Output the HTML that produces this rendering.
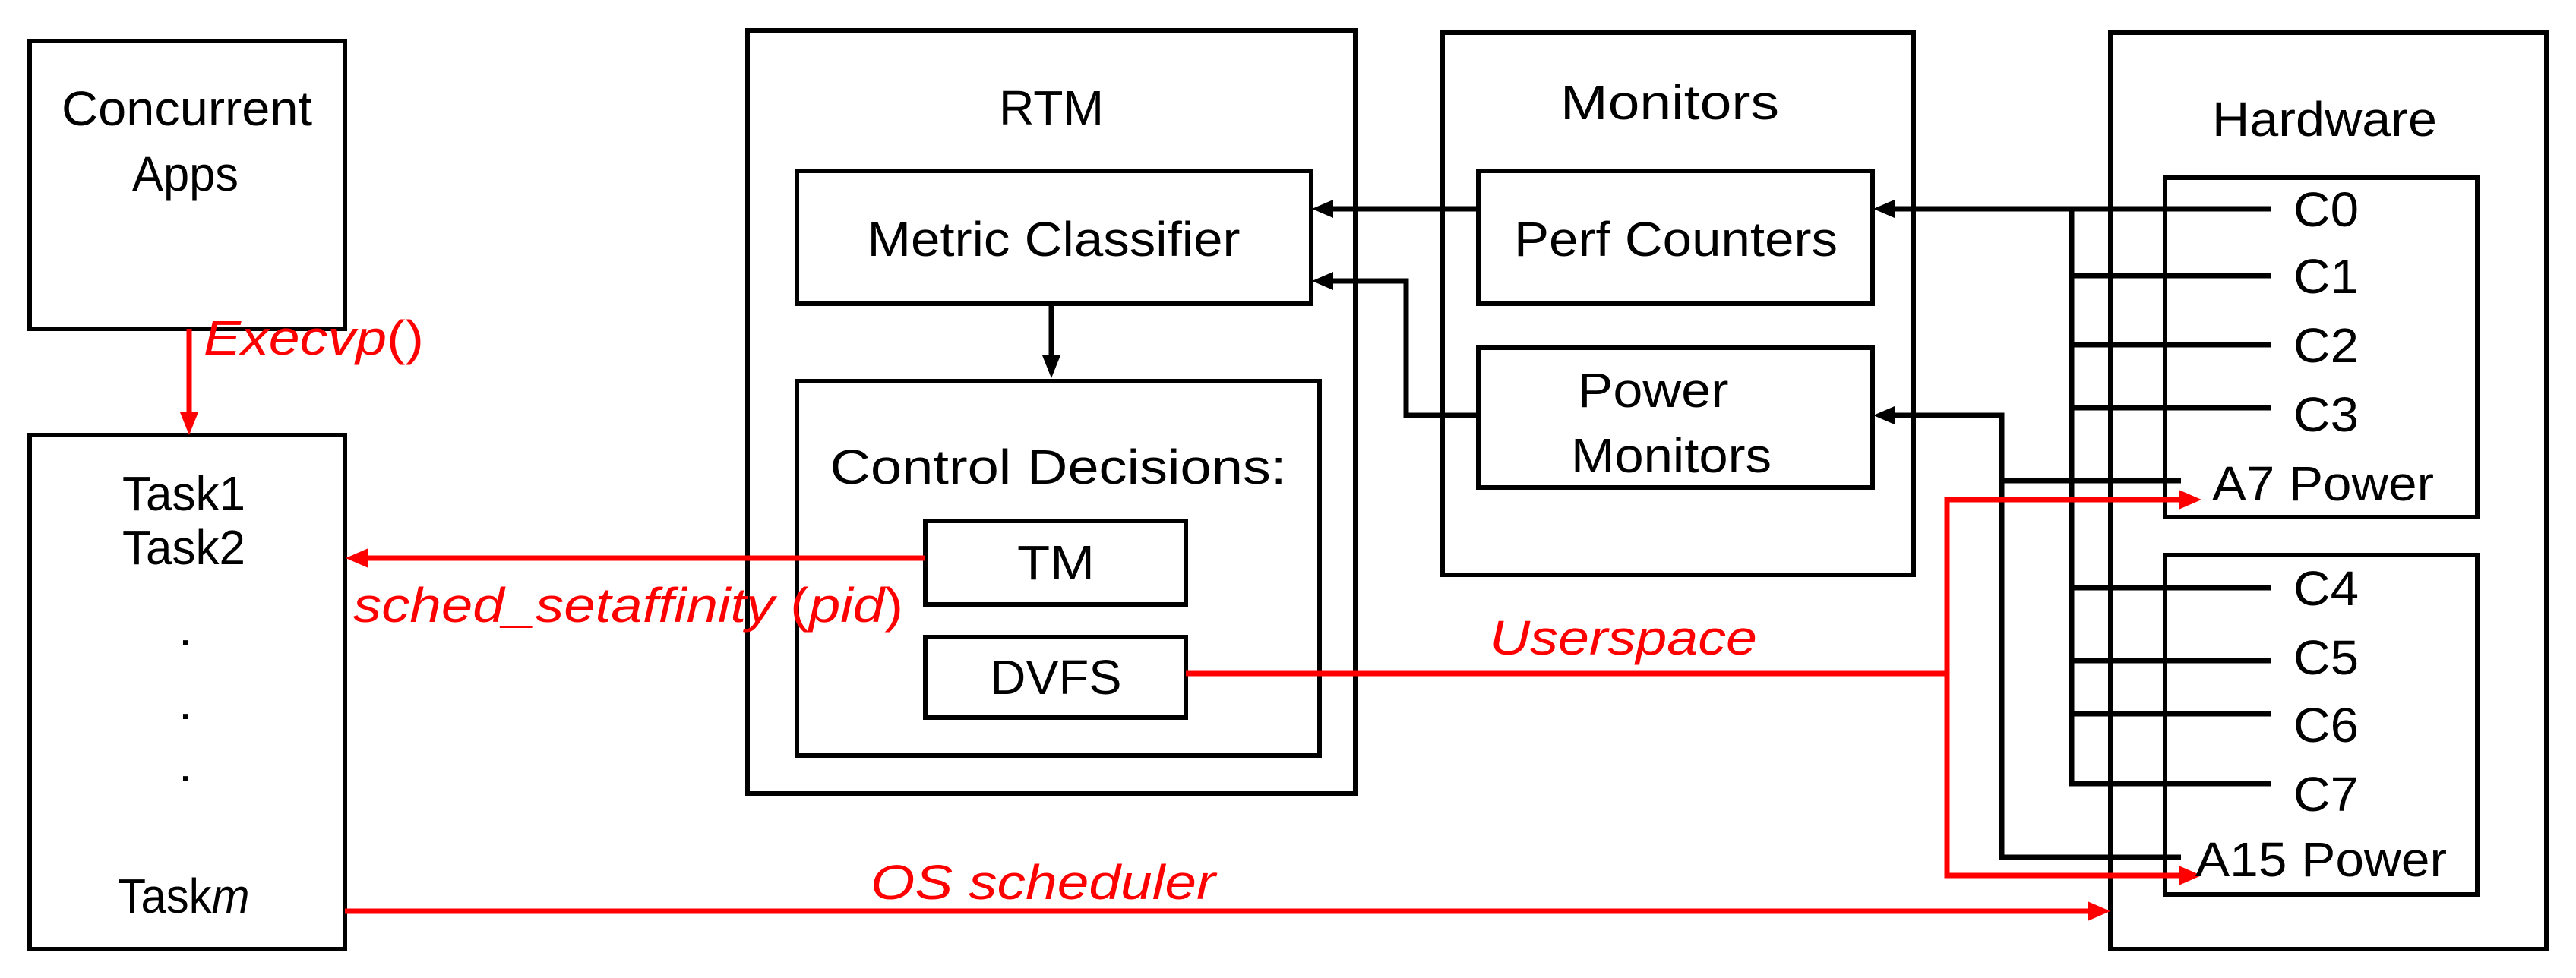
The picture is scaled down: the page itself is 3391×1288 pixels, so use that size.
<!DOCTYPE html>
<html><head><meta charset="utf-8"><style>
html,body{margin:0;padding:0;background:#fff;}
svg{display:block;}
text{font-family:"Liberation Sans",sans-serif;font-size:64px;fill:#000;}
.r{fill:#f00;font-style:italic;}
</style></head><body>
<svg width="3391" height="1288" viewBox="0 0 3391 1288" xmlns="http://www.w3.org/2000/svg">
<g fill="none" stroke="#000" stroke-width="6">
<rect x="39" y="54" width="415" height="379"/>
<rect x="39" y="573" width="415" height="677"/>
<rect x="984" y="40" width="800" height="1005"/>
<rect x="1049" y="225" width="677" height="175"/>
<rect x="1049" y="502" width="688" height="493"/>
<rect x="1218" y="686" width="343" height="110"/>
<rect x="1218" y="839" width="343" height="106"/>
<rect x="1899" y="43" width="620" height="714"/>
<rect x="1946" y="225" width="519" height="175"/>
<rect x="1946" y="458" width="519" height="184"/>
<rect x="2778" y="43" width="574" height="1207"/>
<rect x="2850" y="234" width="411" height="447"/>
<rect x="2850" y="731" width="411" height="447"/>
</g>
<g fill="none" stroke="#000" stroke-width="7">
<line x1="1384" y1="400" x2="1384" y2="470"/>
<line x1="1946" y1="275" x2="1752" y2="275"/>
<polyline points="1946,547 1851,547 1851,370 1752,370"/>
<line x1="2989" y1="275" x2="2490" y2="275"/>
<polyline points="2727,275 2727,1032 2989,1032"/>
<line x1="2727" y1="363" x2="2989" y2="363"/>
<line x1="2727" y1="454" x2="2989" y2="454"/>
<line x1="2727" y1="537" x2="2989" y2="537"/>
<line x1="2727" y1="774" x2="2989" y2="774"/>
<line x1="2727" y1="870" x2="2989" y2="870"/>
<line x1="2727" y1="940" x2="2989" y2="940"/>
<polyline points="2490,547 2635,547 2635,1129 2871,1129"/>
<line x1="2635" y1="633" x2="2871" y2="633"/>
</g>
<g fill="#000">
<path d="M1384,498 L1372,468 L1396,468z"/>
<path d="M1727,275 L1755,263 L1755,287z"/>
<path d="M1727,370 L1755,358 L1755,382z"/>
<path d="M2466,275 L2494,263 L2494,287z"/>
<path d="M2466,547 L2494,535 L2494,559z"/>
</g>
<g fill="none" stroke="#f00" stroke-width="7">
<line x1="249" y1="433" x2="249" y2="545"/>
<line x1="1218" y1="735" x2="480" y2="735"/>
<line x1="1561" y1="887" x2="2563" y2="887"/>
<polyline points="2870,658 2563,658 2563,1153 2870,1153"/>
<line x1="454" y1="1200" x2="2752" y2="1200"/>
</g>
<g fill="#f00">
<path d="M249,573 L237,543 L261,543z"/>
<path d="M455,735 L485,722 L485,748z"/>
<path d="M2898,658 L2868,645 L2868,671z"/>
<path d="M2898,1153 L2868,1140 L2868,1166z"/>
<path d="M2778,1200 L2748,1187 L2748,1213z"/>
</g>
<g text-anchor="middle">
<text x="246" y="165" textLength="330" lengthAdjust="spacingAndGlyphs">Concurrent</text>
<text x="244" y="251" textLength="140" lengthAdjust="spacingAndGlyphs">Apps</text>
<text x="242" y="672" textLength="162" lengthAdjust="spacingAndGlyphs">Task1</text>
<text x="242" y="743" textLength="162" lengthAdjust="spacingAndGlyphs">Task2</text>
<text x="244" y="850">.</text>
<text x="244" y="947">.</text>
<text x="244" y="1029">.</text>
<text x="242" y="1202" textLength="173" lengthAdjust="spacingAndGlyphs">Task<tspan font-style="italic">m</tspan></text>
<text x="1384" y="164" textLength="138" lengthAdjust="spacingAndGlyphs">RTM</text>
<text x="1387" y="337" textLength="491" lengthAdjust="spacingAndGlyphs">Metric Classifier</text>
<text x="1393" y="637" textLength="601" lengthAdjust="spacingAndGlyphs">Control Decisions:</text>
<text x="1390" y="763" textLength="102" lengthAdjust="spacingAndGlyphs">TM</text>
<text x="1390" y="914" textLength="173" lengthAdjust="spacingAndGlyphs">DVFS</text>
<text x="2198" y="157" textLength="288" lengthAdjust="spacingAndGlyphs">Monitors</text>
<text x="2206" y="337" textLength="426" lengthAdjust="spacingAndGlyphs">Perf Counters</text>
<text x="2176" y="536" textLength="199" lengthAdjust="spacingAndGlyphs">Power</text>
<text x="2200" y="622" textLength="264" lengthAdjust="spacingAndGlyphs">Monitors</text>
<text x="3060" y="179" textLength="296" lengthAdjust="spacingAndGlyphs">Hardware</text>
</g>
<g>
<text x="3019" y="298" textLength="86" lengthAdjust="spacingAndGlyphs">C0</text>
<text x="3019" y="386" textLength="86" lengthAdjust="spacingAndGlyphs">C1</text>
<text x="3019" y="477" textLength="86" lengthAdjust="spacingAndGlyphs">C2</text>
<text x="3019" y="568" textLength="86" lengthAdjust="spacingAndGlyphs">C3</text>
<text x="2912" y="659" textLength="292" lengthAdjust="spacingAndGlyphs">A7 Power</text>
<text x="3019" y="797" textLength="86" lengthAdjust="spacingAndGlyphs">C4</text>
<text x="3019" y="888" textLength="86" lengthAdjust="spacingAndGlyphs">C5</text>
<text x="3019" y="977" textLength="86" lengthAdjust="spacingAndGlyphs">C6</text>
<text x="3019" y="1068" textLength="86" lengthAdjust="spacingAndGlyphs">C7</text>
<text x="2890" y="1154" textLength="331" lengthAdjust="spacingAndGlyphs">A15 Power</text>
<text class="r" x="268" y="467" textLength="290" lengthAdjust="spacingAndGlyphs">Execvp<tspan font-style="normal">()</tspan></text>
<text class="r" x="465" y="819" textLength="724" lengthAdjust="spacingAndGlyphs">sched_setaffinity <tspan font-style="normal">(</tspan>pid<tspan font-style="normal">)</tspan></text>
<text class="r" x="1961" y="862" textLength="352" lengthAdjust="spacingAndGlyphs">Userspace</text>
<text class="r" x="1146" y="1184" textLength="454" lengthAdjust="spacingAndGlyphs">OS scheduler</text>
</g>
</svg>
</body></html>
